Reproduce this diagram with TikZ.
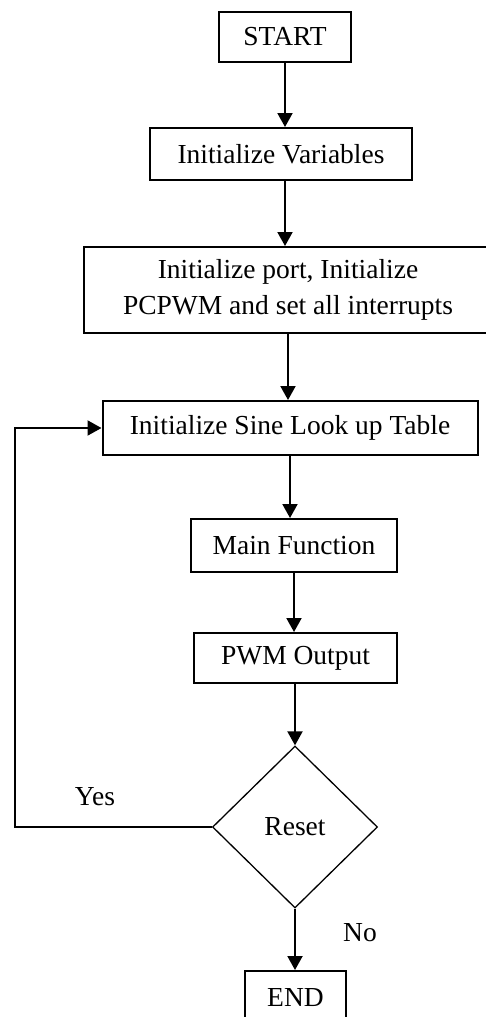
\documentclass[tikz,border=0pt]{standalone}
\usepackage{fontspec}
\setmainfont{Liberation Serif}
\usetikzlibrary{shapes.geometric,arrows.meta}
\newcommand{\flowfont}{\fontsize{27.5}{36}\selectfont}

\tikzset{
	block/.style={draw, line width=2pt, inner sep=0pt, align=center, font=\flowfont},
	decision/.style={draw, diamond, line width=1.3pt, inner sep=0pt, font=\flowfont},
	arr/.style={line width=2pt, -{Triangle[length=14pt,width=15pt]}},
	lbl/.style={font=\flowfont}
}

\begin{document}
\begin{tikzpicture}[x=1pt,y=-1pt]
				\useasboundingbox (0,0) rectangle (486,1017);
				% boxes
				\node[block, minimum width=132pt, minimum height=50pt] (start) at (285,37) {START};
				\node[block, minimum width=262pt, minimum height=52pt] (initvar) at (281,154) {Initialize Variables};
				\node[block, minimum width=408pt, minimum height=86pt] (initport) at (288,290) {Initialize port, Initialize\\PCPWM and set all interrupts};
				\node[block, minimum width=375pt, minimum height=54pt] (sine) at (290,428) {Initialize Sine Look up Table};
				\node[block, minimum width=206pt, minimum height=53pt] (mainfn) at (294,545.5) {Main Function};
				\node[block, minimum width=203pt, minimum height=50pt] (pwm) at (295.5,658) {PWM Output};
				\node[decision, minimum width=165pt, minimum height=162pt] (reset) at (295,827) {Reset};
				\node[block, minimum width=101pt, minimum height=54pt] (stop) at (295.5,998) {END};
				\coordinate (loop) at (15,827);
				% labels
				\node[lbl] (yes) at (95,797) {Yes};
				\node[lbl] (no) at (360,933) {No};
				% connectors
				\draw[arr] (start.south) -- (start.south |- initvar.north);
				\draw[arr] (initvar.south -| start.south) -- (start.south |- initport.north);
				\draw[arr] (initport.south) -- (initport.south |- sine.north);
				\draw[arr] (sine.south) -- (sine.south |- mainfn.north);
				\draw[arr] (mainfn.south) -- (mainfn.south |- pwm.north);
				\draw[arr] (pwm.south -| reset.north) -- (reset.north);
				\draw[arr] (reset.south) -- (reset.south |- stop.north);
				\draw[arr] (reset.west) -- (loop) |- (sine.west);
			\end{tikzpicture}
\end{document}
